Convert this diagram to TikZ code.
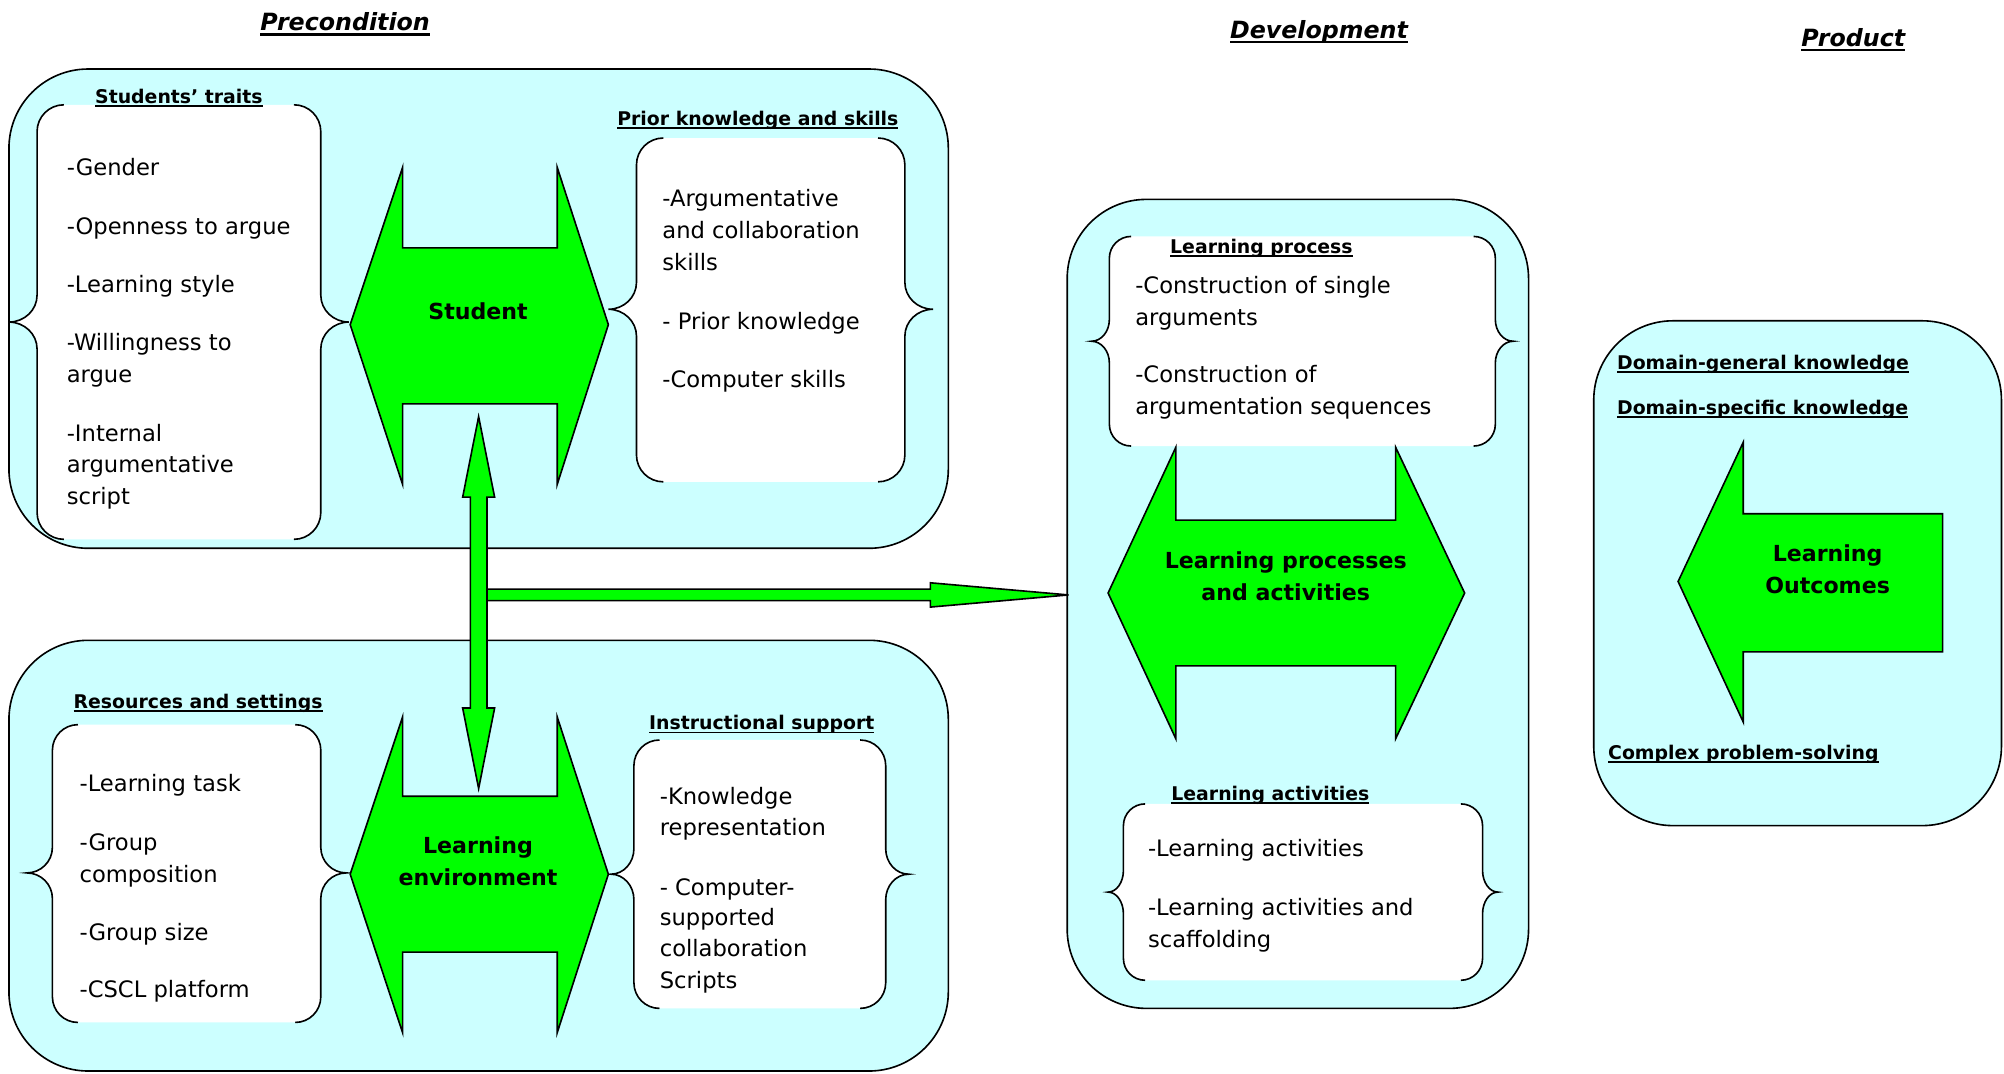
\documentclass[tikz,border=0pt]{standalone}
\usepackage{fontspec}
\setmainfont{DejaVu Sans}
\definecolor{boxcyan}{HTML}{CCFFFF}
\definecolor{arrgreen}{HTML}{00FF00}
\newsavebox\ulbox
% underline at a fixed depth: #1 depth, #2 thickness, #3 text
\newcommand\ulx[3]{\sbox\ulbox{#3}\rlap{\rule[-#1]{\wd\ulbox}{#2}}\usebox\ulbox}
% brace box: x1 y1 x2 y2 ymid tipdepth radius
\newcommand\bracebox[7]{%
  \fill[white]
    ({#1+#7},{#2}) .. controls ({#1+0.448*#7},{#2}) and ({#1},{#2+0.448*#7}) .. ({#1},{#2+#7})
    -- ({#1},{#5-#7}) .. controls ({#1},{#5-0.448*#7}) and ({#1-0.448*#6},{#5}) .. ({#1-#6},{#5})
    .. controls ({#1-0.448*#6},{#5}) and ({#1},{#5+0.448*#7}) .. ({#1},{#5+#7})
    -- ({#1},{#4-#7}) .. controls ({#1},{#4-0.448*#7}) and ({#1+0.448*#7},{#4}) .. ({#1+#7},{#4})
    -- ({#3-#7},{#4}) .. controls ({#3-0.448*#7},{#4}) and ({#3},{#4-0.448*#7}) .. ({#3},{#4-#7})
    -- ({#3},{#5+#7}) .. controls ({#3},{#5+0.448*#7}) and ({#3+0.448*#6},{#5}) .. ({#3+#6},{#5})
    .. controls ({#3+0.448*#6},{#5}) and ({#3},{#5-0.448*#7}) .. ({#3},{#5-#7})
    -- ({#3},{#2+#7}) .. controls ({#3},{#2+0.448*#7}) and ({#3-0.448*#7},{#2}) .. ({#3-#7},{#2}) -- cycle;
  \draw[bracestroke]
    ({#1+#7},{#2}) .. controls ({#1+0.448*#7},{#2}) and ({#1},{#2+0.448*#7}) .. ({#1},{#2+#7})
    -- ({#1},{#5-#7}) .. controls ({#1},{#5-0.448*#7}) and ({#1-0.448*#6},{#5}) .. ({#1-#6},{#5})
    .. controls ({#1-0.448*#6},{#5}) and ({#1},{#5+0.448*#7}) .. ({#1},{#5+#7})
    -- ({#1},{#4-#7}) .. controls ({#1},{#4-0.448*#7}) and ({#1+0.448*#7},{#4}) .. ({#1+#7},{#4});
  \draw[bracestroke]
    ({#3-#7},{#2}) .. controls ({#3-0.448*#7},{#2}) and ({#3},{#2+0.448*#7}) .. ({#3},{#2+#7})
    -- ({#3},{#5-#7}) .. controls ({#3},{#5-0.448*#7}) and ({#3+0.448*#6},{#5}) .. ({#3+#6},{#5})
    .. controls ({#3+0.448*#6},{#5}) and ({#3},{#5+0.448*#7}) .. ({#3},{#5+#7})
    -- ({#3},{#4-#7}) .. controls ({#3},{#4-0.448*#7}) and ({#3-0.448*#7},{#4}) .. ({#3-#7},{#4});
}
\begin{document}
\begin{tikzpicture}[x=0.25mm,y=-0.25mm,
  bigbox/.style={fill=boxcyan, draw=black, line width=0.9pt, rounded corners=15.5mm},
  bracestroke/.style={draw=black, line width=0.9pt},
  blockarrow/.style={fill=arrgreen, draw=black, line width=0.9pt, line join=miter},
  item/.style={anchor=base west, inner sep=0pt, font=\fontsize{12.6}{15}\selectfont},
  lab/.style={anchor=base, inner sep=0pt, font=\bfseries\fontsize{10.5}{12}\selectfont},
  labw/.style={lab, anchor=base west},
  arrtxt/.style={anchor=base, inner sep=0pt, font=\bfseries\fontsize{12.3}{15}\selectfont},
  hdr/.style={anchor=base, inner sep=0pt, font=\bfseries\itshape\fontsize{13.2}{15}\selectfont}]
\useasboundingbox (0,0) rectangle (1568,840);

% ---------- headers
\node[hdr] (hpre) at (270,24) {\ulx{2.8pt}{1.3pt}{Precondition}};
\node[hdr] (hdev) at (1032,30) {\ulx{2.8pt}{1.3pt}{Development}};
\node[hdr] (hpro) at (1450,36) {\ulx{2.8pt}{1.3pt}{Product}};

% ---------- big boxes
\path[bigbox] (7,54) rectangle (742,429);
\path[bigbox] (7,501) rectangle (742,838);
\path[bigbox] (835,156) rectangle (1196,789);
\path[bigbox] (1247,251) rectangle (1566,646);

% ---------- brace boxes
\bracebox{29}{82}{251}{422}{252}{22}{21}
\bracebox{498}{108}{708}{377}{242}{22}{21}
\bracebox{41}{567}{251}{800}{683}{20}{20}
\bracebox{496}{579}{693}{789}{684}{18}{20}
\bracebox{868}{185}{1170}{349}{267}{14}{17}
\bracebox{879}{629}{1160}{767}{698}{12}{17}

% ---------- block arrows
\path[blockarrow] (274,254) -- (315,131) -- (315,194) -- (436,194) -- (436,131) -- (476,254)
  -- (436,379) -- (436,316) -- (315,316) -- (315,379) -- cycle;
\path[blockarrow] (274,684) -- (315,561) -- (315,623) -- (436,623) -- (436,561) -- (476,684)
  -- (436,808) -- (436,745) -- (315,745) -- (315,808) -- cycle;
\path[blockarrow] (867,464) -- (920,350) -- (920,407) -- (1092,407) -- (1092,350) -- (1146,464)
  -- (1092,578) -- (1092,521) -- (920,521) -- (920,578) -- cycle;
\path[blockarrow] (1313,455) -- (1364,346) -- (1364,402) -- (1520,402) -- (1520,510)
  -- (1364,510) -- (1364,565) -- cycle;

% horizontal connector arrow to Development
\coordinate (hstart) at (376,465.5);
\coordinate (htip) at (836,465.5);
\path[blockarrow] (376,461) -- (728,461) -- (728,456) -- (htip) -- (728,475) -- (728,470) -- (376,470);
% vertical double arrow Student <-> Learning environment
\coordinate (vtop) at (374.5,326);
\coordinate (vbot) at (374.5,617);
\path[blockarrow] (vtop) -- (387,389) -- (381,389) -- (381,554) -- (387,554) -- (vbot)
  -- (362,554) -- (368,554) -- (368,389) -- (362,389) -- cycle;

% ---------- arrow labels
\node[arrtxt] (student) at (374,250) {Student};
\node[arrtxt] (le1) at (374,668) {Learning};
\node[arrtxt] (le2) at (374,692.5) {environment};
\node[arrtxt] (lp1) at (1006,444.5) {Learning processes};
\node[arrtxt] (lp2) at (1006,469.5) {and activities};
\node[arrtxt] (lo1) at (1430,439) {Learning};
\node[arrtxt] (lo2) at (1430,464) {Outcomes};

% ---------- section labels
\node[lab] (lst) at (140,81) {\ulx{2pt}{1pt}{Students’ traits}};
\node[lab] (lpk) at (593,98) {\ulx{2pt}{1pt}{Prior knowledge and skills}};
\node[lab] (lrs) at (155,554) {\ulx{2pt}{1pt}{Resources and settings}};
\node[lab] (lis) at (596,571) {\ulx{2pt}{1pt}{Instructional support}};
\node[lab] (llp) at (987,198) {\ulx{2pt}{1pt}{Learning process}};
\node[lab] (lla) at (994,626) {\ulx{2pt}{1pt}{Learning activities}};
\node[labw] (ldg) at (1265,289) {\ulx{2pt}{1pt}{Domain-general knowledge}};
\node[labw] (lds) at (1265,324) {\ulx{2pt}{1pt}{Domain-specific knowledge}};
\node[labw] (lcp) at (1258,594) {\ulx{2pt}{1pt}{Complex problem-solving}};

% ---------- items: Students' traits
\node[item] (s1) at (52,137.5) {-Gender};
\node[item] (s2) at (52,183.5) {-Openness to argue};
\node[item] (s3) at (52,228.5) {-Learning style};
\node[item] (s4) at (52,274.5) {-Willingness to};
\node[item] (s5) at (52,299.5) {argue};
\node[item] (s6) at (52,345.5) {-Internal};
\node[item] (s7) at (52,369.5) {argumentative};
\node[item] (s8) at (52,394.5) {script};
% Prior knowledge
\node[item] (p1) at (518,161.5) {-Argumentative};
\node[item] (p2) at (518,186.5) {and collaboration};
\node[item] (p3) at (518,211.5) {skills};
\node[item] (p4) at (518,257.5) {- Prior knowledge};
\node[item] (p5) at (518,303.5) {-Computer skills};
% Resources
\node[item] (r1) at (62,619.5) {-Learning task};
\node[item] (r2) at (62,665.5) {-Group};
\node[item] (r3) at (62,690.5) {composition};
\node[item] (r4) at (62,735.5) {-Group size};
\node[item] (r5) at (62,780.5) {-CSCL platform};
% Instructional support
\node[item] (i1) at (516,629.5) {-Knowledge};
\node[item] (i2) at (516,653.5) {representation};
\node[item] (i3) at (516,700.5) {- Computer-};
\node[item] (i4) at (516,724.5) {supported};
\node[item] (i5) at (516,748.5) {collaboration};
\node[item] (i6) at (516,773.5) {Scripts};
% Learning process
\node[item] (c1) at (888,229.5) {-Construction of single};
\node[item] (c2) at (888,254.5) {arguments};
\node[item] (c3) at (888,299.5) {-Construction of};
\node[item] (c4) at (888,324.5) {argumentation sequences};
% Learning activities
\node[item] (a1) at (898,670.5) {-Learning activities};
\node[item] (a2) at (898,716.5) {-Learning activities and};
\node[item] (a3) at (898,741.5) {scaffolding};
\end{tikzpicture}
\end{document}
